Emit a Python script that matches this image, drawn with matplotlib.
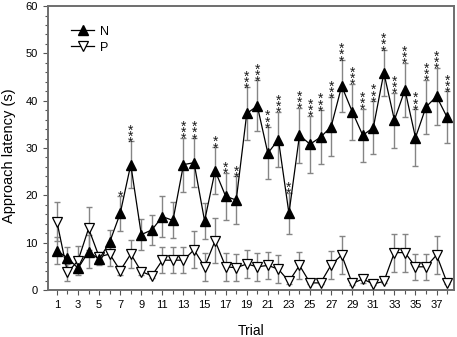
import numpy as np
import matplotlib.pyplot as plt
from matplotlib.ticker import MultipleLocator

plt.rcParams['font.family'] = ['Liberation Sans', 'DejaVu Sans']

trials = np.arange(1, 39)

n_mean = [8.3, 6.8, 4.6, 8.1, 6.5, 10.1, 16.2, 26.5, 11.7, 12.7,
          15.5, 14.7, 26.5, 26.9, 14.6, 25.2, 19.8, 19.0, 37.3, 38.9,
          28.9, 31.8, 16.2, 32.7, 30.8, 32.3, 34.5, 43.1, 37.7, 32.7,
          34.3, 45.9, 35.9, 42.3, 32.2, 38.7, 40.9, 36.5]
n_err = [2.8, 2.3, 1.0, 3.5, 1.2, 2.5, 3.7, 4.9, 3.3, 3.2,
         4.4, 3.8, 5.7, 5.2, 3.8, 5.0, 5.0, 5.0, 5.5, 5.4,
         5.5, 5.9, 4.4, 5.8, 6.0, 5.7, 6.2, 5.5, 5.9, 5.6,
         5.6, 4.8, 5.8, 5.7, 6.0, 5.7, 6.1, 5.5]

p_mean = [14.4, 3.7, 6.2, 13.0, 7.0, 7.6, 4.1, 7.6, 3.9, 3.0,
          6.3, 6.3, 6.3, 8.5, 4.9, 10.4, 4.9, 4.7, 5.5, 4.9,
          5.2, 4.4, 1.8, 5.2, 1.5, 1.5, 5.3, 7.4, 1.4, 2.3,
          1.3, 1.8, 7.9, 7.9, 4.9, 4.9, 7.4, 1.5]
p_err = [4.1, 1.7, 3.0, 4.6, 1.0, 2.6, 1.0, 2.9, 0.8, 0.5,
         2.8, 2.8, 2.8, 3.9, 2.9, 4.8, 3.0, 2.9, 3.0, 2.9,
         2.8, 2.9, 0.5, 2.9, 0.3, 0.3, 2.9, 4.0, 0.3, 0.9,
         0.3, 0.4, 4.0, 4.0, 2.8, 2.8, 4.0, 0.3]

# number of asterisks above each N point
stars = [0, 0, 0, 0, 0, 0, 1, 3, 0, 0,
         0, 0, 3, 3, 0, 2, 2, 2, 3, 3,
         3, 3, 2, 3, 3, 3, 3, 3, 3, 3,
         3, 3, 3, 3, 3, 3, 3, 3]

fig = plt.figure(figsize=(4.57, 3.37), dpi=100)
ax = fig.add_axes([0.105, 0.1395, 0.8884, 0.8425])

ebkw = dict(ecolor='#858585', elinewidth=1.0, capsize=2.5, capthick=1.0, zorder=1)
ax.errorbar(trials, p_mean, yerr=p_err, fmt='none', **ebkw)
ax.errorbar(trials, n_mean, yerr=n_err, fmt='none', **ebkw)
ax.plot(trials, p_mean, color='black', lw=0.9, marker='v', ms=6.5,
        mfc='white', mec='black', mew=0.9, label='P', zorder=3)
ax.plot(trials, n_mean, color='black', lw=0.9, marker='^', ms=6.5,
        mfc='black', mec='black', label='N', zorder=4)

# stacked asterisks above the upper error cap, one text per asterisk
for t, m, e, s in zip(trials, n_mean, n_err, stars):
    for k in range(s):
        ax.annotate('*', (t, m + e), xytext=(0, -3.8 + 4.4 * k),
                    textcoords='offset points', ha='center', va='baseline',
                    fontsize=10, color='#1a1a1a')

ax.set_xlim(0.15, 38.65)
ax.set_ylim(0, 60)
ax.set_xticks(np.arange(1, 39, 2))
ax.xaxis.set_minor_locator(MultipleLocator(1))
ax.yaxis.set_major_locator(MultipleLocator(10))
ax.yaxis.set_minor_locator(MultipleLocator(2))
ax.tick_params(which='both', direction='out', labelsize=8, color='#555555', width=0.8)
ax.tick_params(which='major', length=3.5)
ax.tick_params(which='minor', length=2.5)
ax.tick_params(axis='x', which='minor', length=3.0)
ax.tick_params(axis='y', pad=4)

for sp in ax.spines.values():
    sp.set_color('#6e6e6e')
    sp.set_linewidth(1.4)

ax.set_xlabel('Trial', fontsize=10)
ax.set_ylabel('Approach latency (s)', fontsize=10.5)
ax.xaxis.set_label_coords(0.5, -0.12)
ax.yaxis.set_label_coords(-0.08, 0.472)

h, l = ax.get_legend_handles_labels()
ax.legend(h[::-1], l[::-1], loc='upper left', frameon=False, fontsize=9,
          handlelength=1.8, handletextpad=0.5, labelspacing=0.3,
          bbox_to_anchor=(0.03, 0.97))

fig.savefig('out.png', dpi=100)
